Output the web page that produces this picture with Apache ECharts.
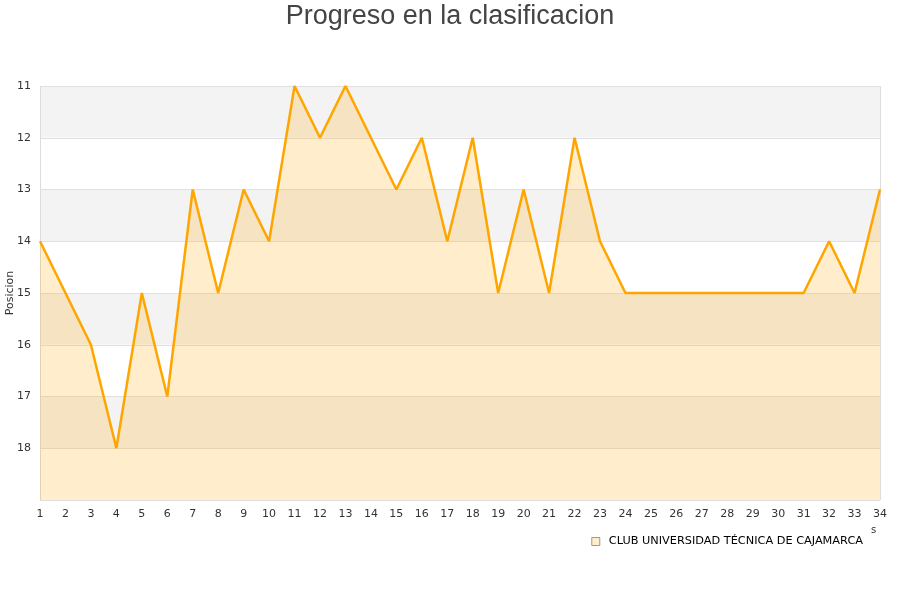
<!DOCTYPE html>
<html><head><meta charset="utf-8">
<script src="https://cdn.jsdelivr.net/npm/echarts@6/dist/echarts.min.js"></script>
<style>html,body{margin:0;padding:0;background:#fff}#c{width:900px;height:600px}</style>
</head><body><div id="c"></div>
<script>
var title = 'Progreso en la clasificacion';
var teamName = 'CLUB UNIVERSIDAD TÉCNICA DE CAJAMARCA';
var jornadas = ['1','2','3','4','5','6','7','8','9','10','11','12','13','14','15','16','17','18','19','20','21','22','23','24','25','26','27','28','29','30','31','32','33','34'];
var posiciones = [14,15,16,18,15,17,13,15,13,14,11,12,11,12,13,12,14,12,15,13,15,12,14,15,15,15,15,15,15,15,15,14,15,13];

var chart = echarts.init(document.getElementById('c'));
chart.setOption({
  animation: false,
  title: {text: title, left: 'center', top: -2, textStyle: {fontFamily: 'Liberation Sans', fontSize: 27, fontWeight: 'normal', color: '#444'}},
  grid: {left: 40, right: 20, top: 86, bottom: 100, containLabel: false, outerBoundsMode: 'none'},
  legend: {
    data: [{name: teamName, icon: 'rect', itemStyle: {color: '#ffeecc', borderColor: '#999', borderWidth: 1}}],
    right: 32, top: 531, itemWidth: 8, itemHeight: 8,
    textStyle: {fontFamily: 'DejaVu Sans', fontSize: 11.3, color: '#000', padding: [0, 0, 0, 4]}
  },
  xAxis: {
    type: 'category', data: jornadas, boundaryGap: false,
    axisLine: {show: false}, axisTick: {show: false},
    axisLabel: {fontFamily: 'DejaVu Sans', fontSize: 11, color: '#333', margin: 9},
    splitLine: {show: true, interval: function(i){return i===0||i===jornadas.length-1;}, lineStyle: {color: '#ddd'}}
  },
  yAxis: {
    type: 'value', inverse: true, min: 11, max: 19, interval: 1,
    name: 'Posicion', nameLocation: 'middle', nameGap: 24, nameRotate: 90, nameMoveOverlap: false,
    nameTextStyle: {fontFamily: 'DejaVu Sans', fontSize: 11, color: '#333'},
    axisLine: {show: false}, axisTick: {show: false},
    axisLabel: {fontFamily: 'DejaVu Sans', fontSize: 11, color: '#333', margin: 9,
      formatter: function(v){return v===19 ? '' : v;}},
    splitLine: {show: true, lineStyle: {color: '#e0e0e0'}},
    splitArea: {show: true, areaStyle: {color: ['#f3f3f3', '#ffffff']}}
  },
  graphic: [{type: 'text', left: 871, top: 525, style: {text: 's', fontFamily: 'DejaVu Sans', fontSize: 10, fill: '#333'}}],
  series: [{
    name: teamName, type: 'line', data: posiciones,
    symbol: 'none',
    lineStyle: {color: '#ffa500', width: 2.5},
    itemStyle: {color: '#ffa500'},
    areaStyle: {color: 'rgba(255,165,0,0.2)', opacity: 1, origin: 'end'}
  }]
});
</script></body></html>
